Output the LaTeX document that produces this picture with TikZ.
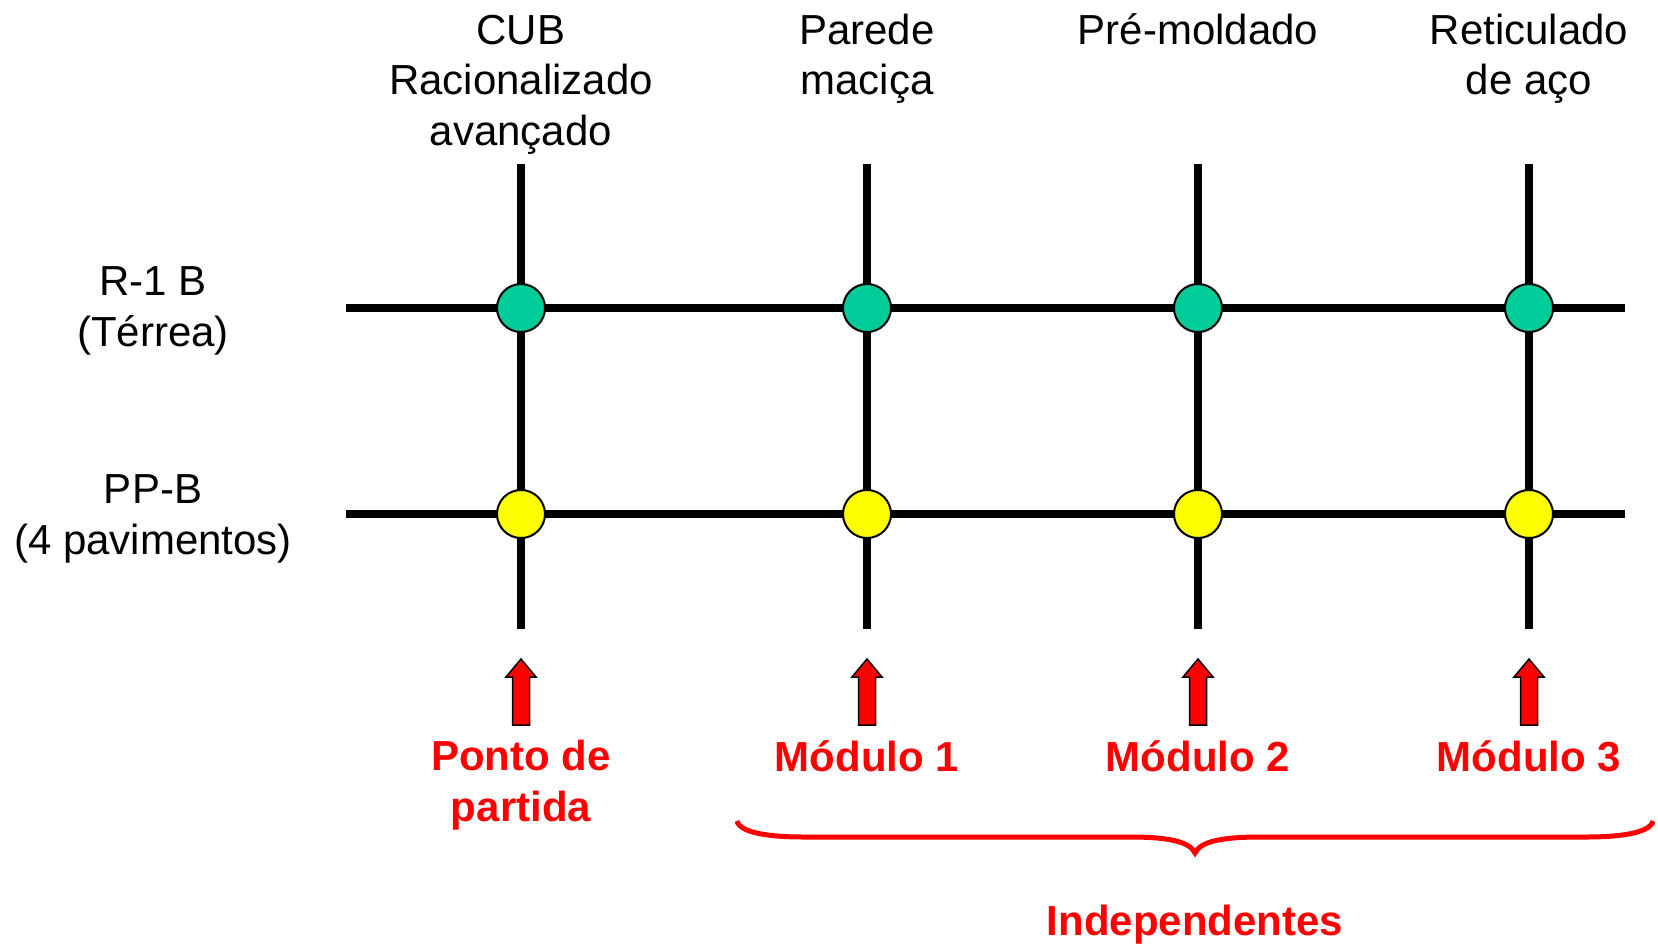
\documentclass[tikz,border=0pt]{standalone}
\usepackage{fontspec}
\setmainfont{Liberation Sans}
\definecolor{nodegreen}{RGB}{0,204,153}
\definecolor{nodeyellow}{RGB}{255,255,0}
\definecolor{labred}{RGB}{255,0,0}
\begin{document}
\begin{tikzpicture}[x=1pt,y=-1pt,
  gridline/.style={line width=8pt, black},
  greendot/.style={circle, draw=black, line width=2pt, fill=nodegreen, minimum size=48pt, inner sep=0pt},
  yellowdot/.style={circle, draw=black, line width=2pt, fill=nodeyellow, minimum size=48pt, inner sep=0pt},
  lab/.style={font=\fontsize{42}{50.5}\selectfont, align=center, anchor=base, inner sep=0pt},
  redlab/.style={font=\fontsize{42}{50.5}\selectfont\bfseries, text=labred, align=center, anchor=base, inner sep=0pt},
  redarrow/.style={fill=labred, draw=black, line width=1.5pt, line join=miter},
  bracestyle/.style={draw=labred, line width=5pt}
]
\useasboundingbox (0,0) rectangle (1658,943);
% grid end points
\foreach \n/\x in {1/521,2/867,3/1198,4/1529}{
  \coordinate (v\n t) at (\x,164);
  \coordinate (v\n b) at (\x,629);
}
\coordinate (h1l) at (346,308);
\coordinate (h1r) at (1625,308);
\coordinate (h2l) at (346,514);
\coordinate (h2r) at (1625,514);
\draw[gridline] (h1l) -- (h1r);
\draw[gridline] (h2l) -- (h2r);
\foreach \n in {1,2,3,4}{ \draw[gridline] (v\n t) -- (v\n b); }
% dots
\foreach \n/\x in {1/521,2/867,3/1198,4/1529}{
  \node[greendot] (g\n) at (\x,308) {};
  \node[yellowdot] (y\n) at (\x,514) {};
}
% column labels (anchor = baseline of last line)
\node[lab] (t1) at (521,145) {CUB\\Racionalizado\\avançado};
\node[lab] (t2) at (867,94.5) {Parede\\maciça};
\node[lab] (t3) at (1198,44) {Pré-moldado};
\node[lab] (t4) at (1529,94.5) {Reticulado\\de aço};
% row labels
\node[lab] (r1) at (153,346) {R-1 B\\(Térrea)};
\node[lab] (r2) at (153,554) {PP-B\\(4 pavimentos)};
% arrows
\foreach \n/\x in {1/521,2/867,3/1198,4/1529}{
  \draw[redarrow, shift={(\x,0)}] (0,659) -- (15,677) -- (8.5,677) -- (8.5,725) -- (-8.5,725) -- (-8.5,677) -- (-15,677) -- cycle;
}
% module labels
\node[redlab] (m0) at (521,821) {Ponto de\\partida};
\node[redlab] (m1) at (867,771) {Módulo 1};
\node[redlab] (m2) at (1198,771) {Módulo 2};
\node[redlab] (m3) at (1529,771) {Módulo 3};
% brace
\coordinate (bl) at (737,821);
\coordinate (br) at (1653,821);
\coordinate (btip) at (1195,853);
\draw[bracestyle] (bl) .. controls (740,834) and (775,837) .. (803,837) -- (1130,837)
  .. controls (1170,837) and (1190,842) .. (btip)
  .. controls (1200,842) and (1220,837) .. (1260,837) -- (1587,837)
  .. controls (1615,837) and (1650,834) .. (br);
\node[redlab] (ind) at (1195,935) {Independentes};
\end{tikzpicture}
\end{document}
